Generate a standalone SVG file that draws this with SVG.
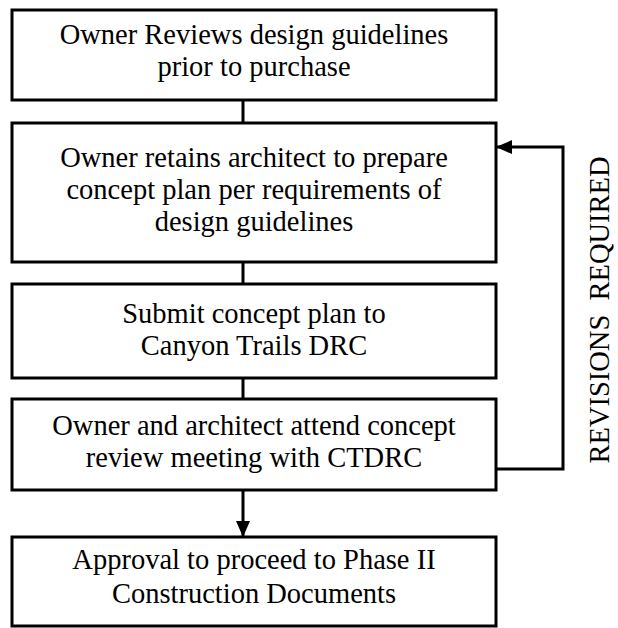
<svg xmlns="http://www.w3.org/2000/svg" width="618" height="628" viewBox="0 0 618 628">
<style>
.box{fill:#fff;stroke:#000;stroke-width:3}
.t{font-family:"Liberation Serif","Times New Roman",serif;font-size:28.5px;fill:#000;text-anchor:middle}
.c{stroke:#000;stroke-width:3;fill:none}
</style>
<defs>
<marker id="ah" markerWidth="16" markerHeight="14" refX="15" refY="7" orient="auto" markerUnits="userSpaceOnUse">
<path d="M0,0 L16,7 L0,14 Z" fill="#000"/>
</marker>
</defs>
<rect width="618" height="628" fill="#fff"/>
<g id="connectors">
<line class="c" x1="243" y1="100" x2="243" y2="123"/>
<line class="c" x1="243" y1="262" x2="243" y2="284"/>
<line class="c" x1="243" y1="378" x2="243" y2="399"/>
<line class="c" x1="243" y1="490" x2="243" y2="536" marker-end="url(#ah)"/>
<polyline class="c" points="496,469 563,469 563,147 497,147" marker-end="url(#ah)"/>
<text class="t" transform="translate(609,310) rotate(-90)">REVISIONS&#160; REQUIRED</text>
</g>
<g id="n1">
<rect class="box" x="12" y="10" width="484" height="90"/>
<text class="t" x="254" y="44">Owner Reviews design guidelines</text>
<text class="t" x="254" y="76">prior to purchase</text>
</g>
<g id="n2">
<rect class="box" x="12" y="123" width="484" height="139"/>
<text class="t" x="254" y="167">Owner retains architect to prepare</text>
<text class="t" x="254" y="199">concept plan per requirements of</text>
<text class="t" x="254" y="231">design guidelines</text>
</g>
<g id="n3">
<rect class="box" x="12" y="284" width="484" height="94"/>
<text class="t" x="254" y="323">Submit concept plan to</text>
<text class="t" x="254" y="355">Canyon Trails DRC</text>
</g>
<g id="n4">
<rect class="box" x="12" y="399" width="484" height="91"/>
<text class="t" x="254" y="435">Owner and architect attend concept</text>
<text class="t" x="254" y="467">review meeting with CTDRC</text>
</g>
<g id="n5">
<rect class="box" x="12" y="537" width="484" height="89"/>
<text class="t" x="254" y="569">Approval to proceed to Phase II</text>
<text class="t" x="254" y="603">Construction Documents</text>
</g>
</svg>
